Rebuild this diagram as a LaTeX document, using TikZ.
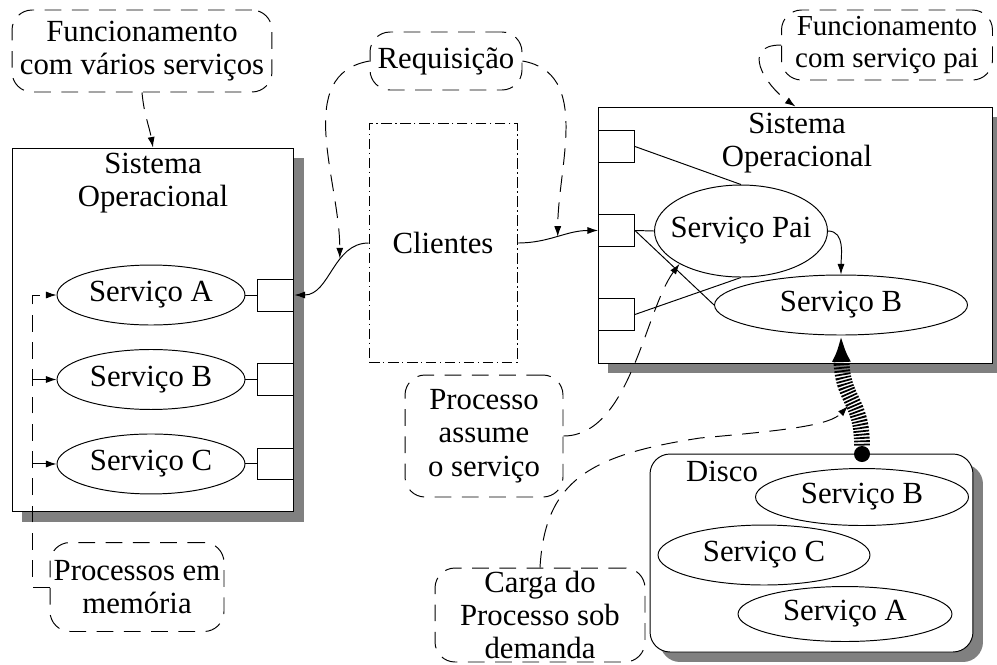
\documentclass[tikz,border=0pt]{standalone}
\usepackage{fontspec}
\setmainfont{Liberation Serif}
\usepackage{tikz}
\usetikzlibrary{positioning,shapes.geometric,shadows,arrows.meta}

% keeps a label from widening its ellipse
\newcommand{\narrow}[1]{\makebox[0pt]{#1}}

\begin{document}
\begin{tikzpicture}[x=0.02cm, y=-0.02cm, line width=0.55pt, >={Latex[length=6pt,width=4pt]},
        font=\fontsize{17.5}{19}\selectfont]

        \useasboundingbox (0,0) rectangle (997,664);

        % Define styles
        \tikzstyle{sysbox} = [rectangle, draw, fill=white, inner sep=0pt,
            drop shadow={shadow xshift=0.2cm, shadow yshift=-0.2cm, fill=black!50, opacity=1}]
        \tikzstyle{svc} = [ellipse, draw, fill=white, inner sep=0pt, minimum width=3.76cm, minimum height=1.2cm, node distance=1.69cm]
        \tikzstyle{port} = [rectangle, draw, fill=white, inner sep=0pt, minimum width=0.72cm, minimum height=0.64cm, node distance=1.68cm]
        \tikzstyle{note} = [rectangle, draw, rounded corners=0.4cm, dash pattern=on 9.5pt off 6pt, align=center, inner sep=0pt]
        \tikzstyle{link} = [->, dash pattern=on 9.5pt off 6pt]
        \tikzstyle{spring} = [line width=9pt, dash pattern=on 1pt off 0.9pt, -{Latex[length=15pt,width=11pt]}]

        % Left system (several services)
        \node[sysbox, minimum width=5.64cm, minimum height=7.28cm] (leftos) at (153,330) {};
        \node[align=center] (lefttitle) at (153,183) {Sistema\\Operacional};
        \node[svc] (lsA) at (151,295) {\narrow{Serviço A}};
        \node[svc, below of=lsA] (lsB) {\narrow{Serviço B}};
        \node[svc, below of=lsB] (lsC) {\narrow{Serviço C}};
        \node[port, anchor=east] (lpA) at (leftos.east |- lsA) {};
        \node[port, anchor=east] (lpB) at (leftos.east |- lsB) {};
        \node[port, anchor=east] (lpC) at (leftos.east |- lsC) {};

        % Right system (parent service)
        \node[sysbox, minimum width=7.9cm, minimum height=5.12cm] (rightos) at (795.5,235) {};
        \node[align=center] (righttitle) at (797,143) {Sistema\\Operacional};
        \node[port, anchor=west] (rp1) at (598,146.5) {};
        \node[port, below of=rp1] (rp2) {};
        \node[port, below of=rp2] (rp3) {};
        \node[svc, minimum width=3.46cm, minimum height=1.84cm] (pai) at (741,231) {\narrow{Serviço Pai}};
        \node[svc, minimum width=5.06cm] (rB) at (841,305) {\narrow{Serviço B}};

        % Disk
        \node[sysbox, rounded corners=0.4cm, minimum width=6.46cm, minimum height=3.96cm] (disco) at (811.5,553) {};
        \node (discolabel) at (722,471) {Disco};
        \node[svc, minimum width=4.26cm, minimum height=1.14cm] (dB) at (862,497) {\narrow{Serviço B}};
        \node[svc, minimum width=4.24cm] (dC) at (764,555) {\narrow{Serviço C}};
        \node[svc, minimum width=4.28cm, minimum height=1.1cm] (dA) at (845,614) {\narrow{Serviço A}};
        \node[circle, fill, inner sep=0pt, minimum size=0.32cm] (plug) at (862,454) {};

        % Clients
        \node[draw, dash pattern=on 6pt off 2pt on 0.8pt off 2pt, minimum width=2.96cm, minimum height=4.78cm] (cli) at (443,243) {Clientes};

        % Notes
        \node[note, minimum width=5.2cm, minimum height=1.64cm] (fvar) at (142,51) {Funcionamento\\com vários serviços};
        \node[note, minimum width=3.04cm, minimum height=1.16cm] (req) at (446,61) {Requisição};
        \node[note, minimum width=4.22cm, minimum height=1.4cm, font=\fontsize{16.5}{18}\selectfont] (fpai) at (887,45) {Funcionamento\\com serviço pai};
        \node[note, minimum width=3.16cm, minimum height=2.44cm] (assume) at (484,436) {Processo\\assume\\o serviço};
        \node[note, minimum width=4.2cm, minimum height=1.88cm] (carga) at (540,615) {Carga do\\Processo sob\\demanda};
        \node[note, minimum width=3.48cm, minimum height=1.78cm] (mem) at (137,587) {Processos em\\memória};

        % Services to their ports
        \foreach \s in {A,B,C}
            \draw (ls\s) -- (lp\s);
        \draw (rp1.east) -- (pai.north);
        \draw (rp2.east) -- (pai.west);
        \draw (rp2.east) -- (rB.west);
        \draw (rp3.east) -- (pai.south);
        \draw[->] (pai.east) to[out=0,in=90] (rB.north);

        % Requests from the clients
        \draw[->] (cli.west) to[out=180,in=0] coordinate[pos=0.36] (reqL) (lpA.east);
        \draw[->] (cli.east) to[out=0,in=180] coordinate[pos=0.5] (reqR) (rp2.west);
        \draw[link] (req.west) to[out=190,in=90] (reqL);
        \draw[link] (req.east) to[out=-10,in=90] (reqR);

        % Notes pointing to the systems
        \draw[link] (fvar.south) to[out=-85,in=100] (leftos.north);
        \draw[link] (fpai.west) .. controls (740,45) and (765,85) .. (rightos.north);
        \draw[link] (assume.east) .. controls (630,436) and (645,310) .. (pai.south west);
        \draw[link] (mem.west) -- ++(-17,0) coordinate (trunk) |- (lsA.west);
        \draw[link] (trunk |- lsB) -- (lsB.west);
        \draw[link] (trunk |- lsC) -- (lsC.west);

        % Loading from disk
        \coordinate (coilmid) at (848,406);
        \draw[spring] (plug.north) .. controls (862,400) and (842,400) .. (rB.south);
        \draw[link] (carga.north) .. controls (545,480) and (590,455) .. (700,438)
            .. controls (790,430) and (830,425) .. (coilmid);

\end{tikzpicture}
\end{document}
